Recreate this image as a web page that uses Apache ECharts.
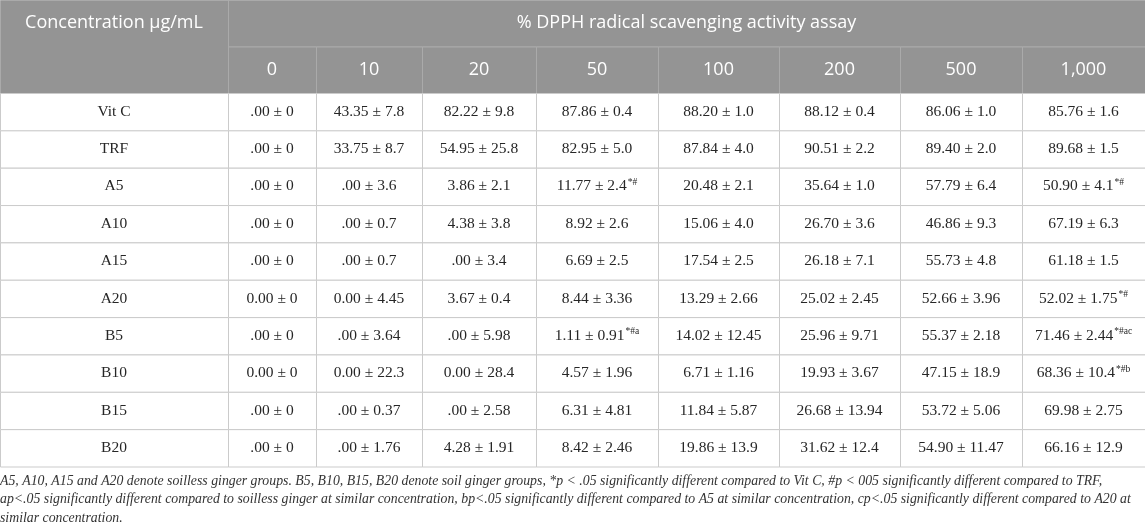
<!DOCTYPE html>
<html>
<head>
<meta charset="utf-8">
<script src="https://cdn.jsdelivr.net/npm/echarts@6/dist/echarts.min.js"></script>
<style>
  html, body { margin: 0; padding: 0; background: #fff; }
  #table { width: 1145px; height: 528px; }
</style>
</head>
<body>
<div id="table"></div>
<script>
// header texts
const firstHeader = 'Concentration µg/mL'
const groupHeader = '% DPPH radical scavenging activity assay'
const concentrations = ['0', '10', '20', '50', '100', '200', '500', '1,000']

// row labels
const groups = ['Vit C', 'TRF', 'A5', 'A10', 'A15', 'A20', 'B5', 'B10', 'B15', 'B20']

// mean ± sd per concentration, {s|..} = superscript marks
const vitC = ['.00 ± 0', '43.35 ± 7.8', '82.22 ± 9.8', '87.86 ± 0.4', '88.20 ± 1.0', '88.12 ± 0.4', '86.06 ± 1.0', '85.76 ± 1.6']
const trf = ['.00 ± 0', '33.75 ± 8.7', '54.95 ± 25.8', '82.95 ± 5.0', '87.84 ± 4.0', '90.51 ± 2.2', '89.40 ± 2.0', '89.68 ± 1.5']
const a5 = ['.00 ± 0', '.00 ± 3.6', '3.86 ± 2.1', '11.77 ± 2.4{s|*#}', '20.48 ± 2.1', '35.64 ± 1.0', '57.79 ± 6.4', '50.90 ± 4.1{s|*#}']
const a10 = ['.00 ± 0', '.00 ± 0.7', '4.38 ± 3.8', '8.92 ± 2.6', '15.06 ± 4.0', '26.70 ± 3.6', '46.86 ± 9.3', '67.19 ± 6.3']
const a15 = ['.00 ± 0', '.00 ± 0.7', '.00 ± 3.4', '6.69 ± 2.5', '17.54 ± 2.5', '26.18 ± 7.1', '55.73 ± 4.8', '61.18 ± 1.5']
const a20 = ['0.00 ± 0', '0.00 ± 4.45', '3.67 ± 0.4', '8.44 ± 3.36', '13.29 ± 2.66', '25.02 ± 2.45', '52.66 ± 3.96', '52.02 ± 1.75{s|*#}']
const b5 = ['.00 ± 0', '.00 ± 3.64', '.00 ± 5.98', '1.11 ± 0.91{s|*#a}', '14.02 ± 12.45', '25.96 ± 9.71', '55.37 ± 2.18', '71.46 ± 2.44{s|*#ac}']
const b10 = ['0.00 ± 0', '0.00 ± 22.3', '0.00 ± 28.4', '4.57 ± 1.96', '6.71 ± 1.16', '19.93 ± 3.67', '47.15 ± 18.9', '68.36 ± 10.4{s|*#b}']
const b15 = ['.00 ± 0', '.00 ± 0.37', '.00 ± 2.58', '6.31 ± 4.81', '11.84 ± 5.87', '26.68 ± 13.94', '53.72 ± 5.06', '69.98 ± 2.75']
const b20 = ['.00 ± 0', '.00 ± 1.76', '4.28 ± 1.91', '8.42 ± 2.46', '19.86 ± 13.9', '31.62 ± 12.4', '54.90 ± 11.47', '66.16 ± 12.9']

const footnote = [
    'A5, A10, A15 and A20 denote soilless ginger groups. B5, B10, B15, B20 denote soil ginger groups, *p < .05 significantly different compared to Vit C, #p < 005 significantly different compared to TRF,',
    'ap<.05 significantly different compared to soilless ginger at similar concentration, bp<.05 significantly different compared to A5 at similar concentration, cp<.05 significantly different compared to A20 at',
    'similar concentration.'
]

// layout: column and row edges (axis units = px)
const colEdges = [0, 228, 316, 422, 536, 658, 779, 900, 1022, 1145]
const rowEdges = [0, 46.5, 93]
for (let i = 1; i <= 10; i++) rowEdges.push(93 + i * 37.35)

const rows = [vitC, trf, a5, a10, a15, a20, b5, b10, b15, b20]

// cells: [col0, col1, row0, row1, text, kind]
let cells = []
cells.push([0, 1, 0, 2, firstHeader, 'h0'])
cells.push([1, 9, 0, 1, groupHeader, 'h'])
concentrations.forEach((c, i) => {
    cells.push([i + 1, i + 2, 1, 2, c, 'h'])
})
groups.forEach((g, r) => {
    cells.push([0, 1, r + 2, r + 3, g, 'd'])
    rows[r].forEach((v, i) => {
        cells.push([i + 1, i + 2, r + 2, r + 3, v, 'd'])
    })
})

function renderItem(params, api) {
    let c0 = api.value(0), c1 = api.value(1), r0 = api.value(2), r1 = api.value(3)
    let item = cells[params.dataIndex]
    let kind = item[5]
    let p0 = api.coord([colEdges[c0], rowEdges[r0]])
    let p1 = api.coord([colEdges[c1], rowEdges[r1]])
    let x = p0[0], y = p0[1], w = p1[0] - p0[0], h = p1[1] - p0[1]
    let head = kind !== 'd'
    let ty = kind === 'h0' ? y + 23 : y + h / 2
    return {
        type: 'group',
        children: [{
            type: 'rect',
            shape: { x: x + 0.5, y: y + 0.5, width: w, height: h },
            style: {
                fill: head ? '#949494' : '#fff',
                stroke: head ? '#aaaaaa' : '#cbcbcb',
                lineWidth: 1
            }
        }, {
            type: 'text',
            x: x + w / 2,
            y: ty,
            style: {
                text: item[4],
                align: 'center',
                verticalAlign: 'middle',
                fill: head ? '#fff' : '#262626',
                fontFamily: head ? 'Open Sans' : 'Liberation Serif',
                fontSize: head ? 18 : 15.5,
                rich: {
                    s: {
                        fontSize: 9.5,
                        fontFamily: 'Liberation Serif',
                        fill: '#262626',
                        padding: [0, 0, 8, 1]
                    }
                }
            }
        }]
    }
}

let chart = echarts.init(document.getElementById('table'))
chart.setOption({
    animation: false,
    grid: { left: 0, right: 0, top: 0, bottom: 528 - 466.5 },
    xAxis: { type: 'value', min: 0, max: 1145, show: false },
    yAxis: { type: 'value', min: 0, max: 466.5, inverse: true, show: false },
    series: [{
        type: 'custom',
        renderItem: renderItem,
        data: cells.map(c => [c[0], c[1], c[2], c[3]]),
        silent: true
    }],
    graphic: footnote.map((t, i) => ({
        type: 'text',
        left: 0,
        top: 474 + i * 18.5,
        style: {
            text: t,
            fill: '#333',
            font: 'italic 13.8px "Liberation Serif"'
        }
    }))
})

window.onresize = function() {
    chart.resize()
}
</script>
</body>
</html>
